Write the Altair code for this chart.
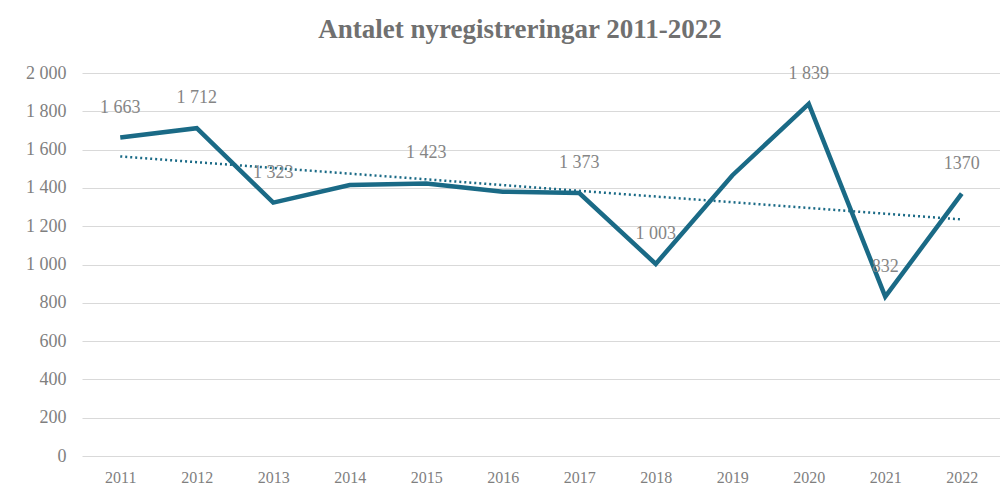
import altair as alt
import pandas as pd

years = ["2011", "2012", "2013", "2014", "2015", "2016", "2017", "2018", "2019", "2020", "2021", "2022"]
values = [1663, 1712, 1323, 1415, 1423, 1380, 1373, 1003, 1465, 1839, 832, 1370]
labels = ["1 663", "1 712", "1 323", "", "1 423", "", "1 373", "1 003", "", "1 839", "832", "1370"]
y_ticks = [0, 200, 400, 600, 800, 1000, 1200, 1400, 1600, 1800, 2000]

df = pd.DataFrame({"year": years, "value": values, "label": labels,
                   "yr": [int(y) for y in years]})

LINE = "#1a6a86"
FONT = "Liberation Serif"

x = alt.X("year:O", title=None, scale=alt.Scale(paddingOuter=0.5, paddingInner=0),
          axis=alt.Axis(labelAngle=0, labelFont=FONT, labelFontSize=16, labelColor="#7f7f7f",
                        ticks=False, domain=False, labelPadding=13))
y = alt.Y("value:Q", title=None, scale=alt.Scale(domain=[0, 2000], nice=False),
          axis=alt.Axis(values=y_ticks, labelOverlap=False, labelFont=FONT, labelFontSize=18,
                        labelColor="#7f7f7f", ticks=False, domain=False, labelPadding=16,
                        gridColor="#d9d9d9", gridWidth=1, labelBaseline="middle",
                        labelExpr="replace(format(datum.value, ','), ',', ' ')"))

base = alt.Chart(df).encode(x=x, y=y)

line = base.mark_line(color=LINE, strokeWidth=4.5, strokeJoin="miter")

trend = alt.Chart(df).transform_regression("yr", "value").transform_calculate(
    year="toString(datum.yr)"
).mark_line(color=LINE, strokeWidth=2.5, strokeDash=[2, 3]).encode(x=x, y=y)

text = base.mark_text(font=FONT, fontSize=18, color="#858585", dy=-30).encode(text="label:N")

chart = alt.layer(line, trend, text).properties(
    width=918, height=383,
    autosize=alt.AutoSizeParams(type="none"),
    padding={"left": 74, "top": 65, "right": 0, "bottom": 30},
    title=alt.TitleParams("Antalet nyregistreringar 2011-2022", font=FONT, fontSize=27,
                          fontWeight=600, color="#707070", anchor="middle", dx=-21, offset=20),
).configure_view(stroke=None)

chart.save("out.html", embed_options={"renderer": "svg", "actions": False})
